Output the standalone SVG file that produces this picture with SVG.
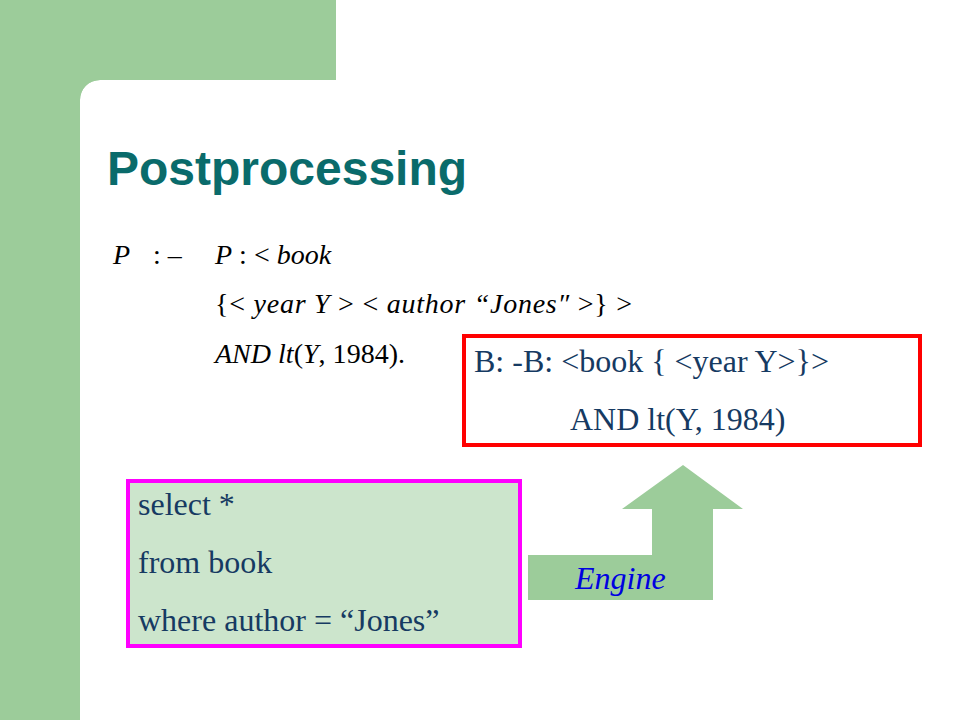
<svg xmlns="http://www.w3.org/2000/svg" width="960" height="720" viewBox="0 0 960 720">
<style>
.serif{font-family:"Liberation Serif","Times New Roman",serif;}
.code{font-family:"Liberation Serif","Times New Roman",serif;font-size:32px;fill:#163a62;}
.math{font-family:"Liberation Serif","Times New Roman",serif;font-size:28px;fill:#000;}
.it{font-style:italic;}
</style>
<rect width="960" height="720" fill="#ffffff"/>
<g id="background">
<rect x="0" y="0" width="80" height="720" fill="#9ccc9a"/>
<rect x="0" y="0" width="336" height="80" fill="#9ccc9a"/>
<path d="M80 80 L100 80 A20 20 0 0 0 80 100 Z" fill="#9ccc9a"/>
<path d="M80 100 A20 20 0 0 1 100 80 L80 80 Z" fill="#9ccc9a"/>
</g>
<g id="title">
<text x="107" y="185" font-family="'Liberation Sans',Arial,sans-serif" font-weight="bold" font-size="48" fill="#0a6b6b">Postprocessing</text>
</g>
<g id="formula" class="math">
<text x="113" y="264" class="it">P</text>
<text x="153" y="264">: –</text>
<text x="215" y="264"><tspan class="it">P</tspan> : &lt; <tspan class="it">book</tspan></text>
<text x="215" y="313" textLength="417" lengthAdjust="spacing">{&lt; <tspan class="it">year Y</tspan> &gt; &lt; <tspan class="it">author “Jones″</tspan> &gt;} &gt;</text>
<text x="215" y="363" textLength="190" lengthAdjust="spacing"><tspan class="it">AND lt</tspan>(<tspan class="it">Y</tspan>, 1984).</text>
</g>
<g id="result-box">
<rect x="464" y="336" width="456" height="109" fill="#ffffff" stroke="#ff0000" stroke-width="4"/>
<text x="474" y="372" class="code">B: -B: &lt;book { &lt;year Y&gt;}&gt;</text>
<text x="570" y="430" class="code">AND lt(Y, 1984)</text>
</g>
<g id="query-box">
<rect x="128" y="481" width="392" height="165" fill="#cce5cc" stroke="#ff00ff" stroke-width="4"/>
<text x="138" y="515" class="code">select *</text>
<text x="138" y="573" class="code">from book</text>
<text x="138" y="631" class="code">where author = “Jones”</text>
</g>
<g id="connectors">
<polygon points="528,555 652,555 652,509 622,509 683,465 743,509 713,509 713,600 528,600" fill="#9ccc9a"/>
<text x="575" y="589" class="serif it" font-size="32" fill="#0000e0">Engine</text>
</g>
</svg>
